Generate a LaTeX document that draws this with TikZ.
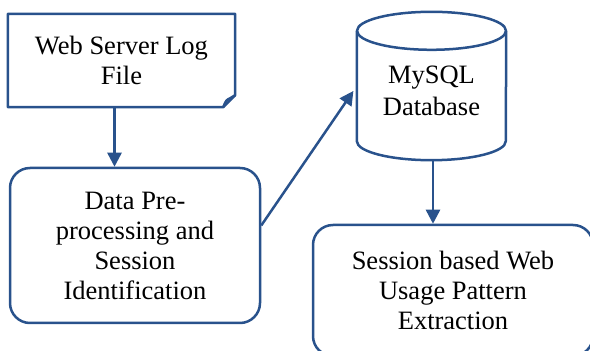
\documentclass[tikz,border=0pt]{standalone}
\usepackage{fontspec}
\setmainfont{Liberation Serif}
\usetikzlibrary{arrows.meta,positioning}
\definecolor{flowblue}{RGB}{41,82,140}

\begin{document}
\begin{tikzpicture}[x=1pt, y=1pt,
  font=\fontsize{26.5}{30}\selectfont,
  box/.style={draw=flowblue, line width=2.5pt, rounded corners=20pt, align=center},
  plain/.style={align=center, inner sep=0pt},
  line/.style={draw=flowblue, line width=2.5pt, line join=round},
  arr/.style={draw=flowblue, line width=2.5pt, -{Triangle[length=14pt,width=14pt]}}]
\useasboundingbox (0,0) rectangle (590,351);
\clip (0,0) rectangle (590,351);
% --- input log file ---
\node[plain, minimum width=227pt, minimum height=93pt] (log) at (121.5,290.5) {Web Server Log\\File};
\draw[line] (log.north west) -- (log.north east) -- ([yshift=12pt]log.south east)
  -- ([xshift=-12pt]log.south east) -- (log.south west) -- cycle;
\draw[line] ([xshift=-12pt]log.south east) .. controls ([xshift=-9pt,yshift=7pt]log.south east) .. ([xshift=-5pt,yshift=9pt]log.south east) -- ([yshift=12pt]log.south east);
% --- preprocessing ---
\node[box, minimum width=250pt, minimum height=155pt] (prep) at (135,105.5) {Data Pre-\\processing and\\Session\\Identification};
% --- database ---
\node[plain, minimum width=149pt, minimum height=148pt] (db) at (431.5,265) {};
\node[plain, font=\fontsize{26.5}{32}\selectfont] (dbtext) at (431.5,260) {MySQL\\Database};
\draw[line] ([yshift=-19pt]db.north) ellipse [x radius=74.5, y radius=19];
\draw[line] ([yshift=-19pt]db.north west) -- ([yshift=19pt]db.south west)
  arc [start angle=180, end angle=360, x radius=74.5, y radius=19] -- ([yshift=-19pt]db.north east);
% --- pattern extraction ---
\node[box, minimum width=280pt, minimum height=131pt] (extract) at (453,60.5) {Session based Web\\Usage Pattern\\Extraction};
% --- connectors ---
\draw[arr] ([xshift=-7pt]log.south) -- ([xshift=-7pt]log.south |- prep.north);
\draw[arr, shorten >=6pt] ([yshift=20pt]prep.east) -- (db.west);
\draw[arr] ([xshift=1.5pt]db.south) -- ([xshift=1.5pt]db.south |- extract.north);
\end{tikzpicture}
\end{document}
